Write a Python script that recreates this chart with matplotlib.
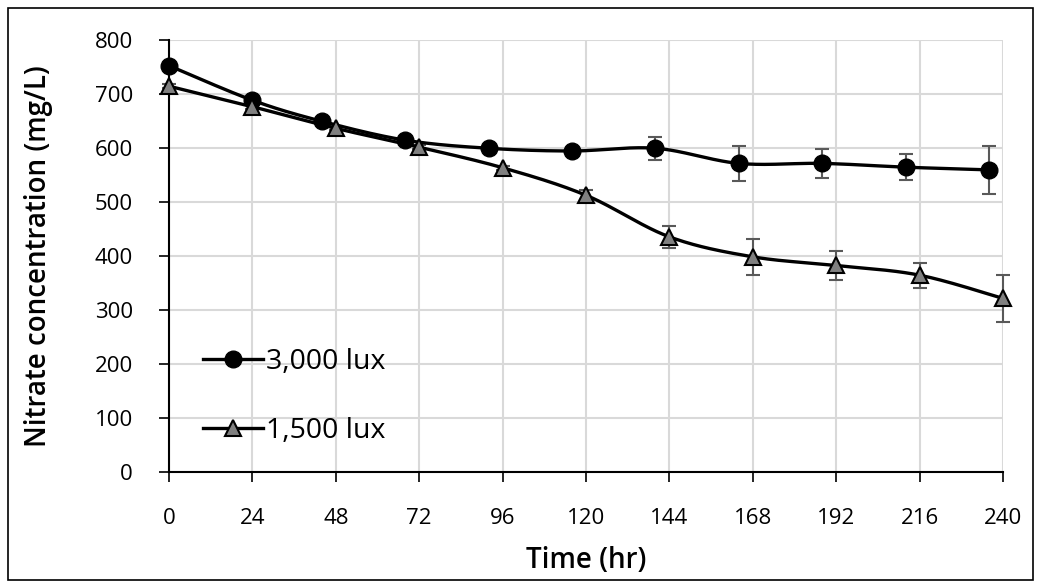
import matplotlib
matplotlib.use('Agg')
import matplotlib.pyplot as plt
import numpy as np
from matplotlib.patches import Rectangle

# values
time_3000 = [0, 24, 44, 68, 92, 116, 140, 164, 188, 212, 236]
conc_3000 = [753, 689, 650, 615, 600, 595, 600, 572, 572, 565, 560]
err_3000 = [4, 4, 4, 4, 4, 4, 21, 33, 27, 24, 44]

time_1500 = [0, 24, 48, 72, 96, 120, 144, 168, 192, 216, 240]
conc_1500 = [715, 677, 637, 602, 564, 513, 436, 399, 383, 365, 322]
err_1500 = [4, 4, 4, 4, 4, 10, 20, 33, 27, 23, 44]

x_ticks = [0, 24, 48, 72, 96, 120, 144, 168, 192, 216, 240]
y_ticks = [0, 100, 200, 300, 400, 500, 600, 700, 800]


def smooth(x, y, n=40):
    # excel-like smoothed line (bezier through points, catmull-rom tangents)
    pts = np.column_stack([x, y]).astype(float)
    m = len(pts)
    t = np.linspace(0, 1, n)[:, None]
    out = []
    for i in range(m - 1):
        p0 = pts[max(i - 1, 0)]
        p1 = pts[i]
        p2 = pts[i + 1]
        p3 = pts[min(i + 2, m - 1)]
        c1 = p1 + (p2 - p0) / 6
        c2 = p2 - (p3 - p1) / 6
        seg = (1 - t) ** 3 * p1 + 3 * (1 - t) ** 2 * t * c1 + 3 * (1 - t) * t ** 2 * c2 + t ** 3 * p2
        out.append(seg)
    out = np.vstack(out)
    return out[:, 0], out[:, 1]


plt.rcParams['font.family'] = ['Open Sans', 'DejaVu Sans']

fig = plt.figure(figsize=(10.41, 5.88), dpi=100)
ax = fig.add_axes([0.1623, 0.1968, 0.8012, 0.7347])

ax.set_xlim(0, 240)
ax.set_ylim(0, 800)
ax.set_xticks(x_ticks)
ax.set_yticks(y_ticks)
ax.grid(True, color='#d9d9d9', linewidth=1.5)
ax.set_axisbelow(True)
for side in ['top', 'right']:
    ax.spines[side].set_visible(False)
for side in ['left', 'bottom']:
    ax.spines[side].set_linewidth(1.5)
ax.tick_params(direction='out', length=7, width=1.2, labelsize=16, colors='black')
ax.tick_params(axis='y', pad=19)
ax.tick_params(axis='x', pad=19)

ax.set_xlabel('Time (hr)', fontsize=20, fontweight='semibold', labelpad=12)
ax.set_ylabel('Nitrate concentration (mg/L)', fontsize=20, fontweight='semibold', labelpad=30)

# error bars
ax.errorbar(time_3000, conc_3000, yerr=err_3000, fmt='none', ecolor='#595959',
            elinewidth=1.5, capsize=5, capthick=1.5, zorder=3, clip_on=False)
ax.errorbar(time_1500, conc_1500, yerr=err_1500, fmt='none', ecolor='#595959',
            elinewidth=1.5, capsize=5, capthick=1.5, zorder=3, clip_on=False)

sx, sy = smooth(time_3000, conc_3000)
ax.plot(sx, sy, color='black', linewidth=2.4, zorder=4, clip_on=False)
ax.plot(time_3000, conc_3000, linestyle='none', marker='o', markersize=12,
        markerfacecolor='black', markeredgecolor='black', zorder=5, clip_on=False)

sx, sy = smooth(time_1500, conc_1500)
ax.plot(sx, sy, color='black', linewidth=2.4, zorder=6, clip_on=False)
ax.plot(time_1500, conc_1500, linestyle='none', marker='^', markersize=12,
        markerfacecolor='#808080', markeredgecolor='black', markeredgewidth=1.5,
        zorder=7, clip_on=False)

h1, = ax.plot([], [], color='black', linewidth=2.4, marker='o', markersize=12,
              markerfacecolor='black', markeredgecolor='black')
h2, = ax.plot([], [], color='black', linewidth=2.4, marker='^', markersize=12,
              markerfacecolor='#808080', markeredgecolor='black', markeredgewidth=1.5)
ax.legend([h1, h2], ['3,000 lux', '1,500 lux'], loc='center left',
          bbox_to_anchor=(0.041, 0.176), frameon=False, fontsize=20.5,
          handlelength=2.1, handletextpad=0.12, labelspacing=1.45,
          borderpad=0, borderaxespad=0)

fig.patches.append(Rectangle((8 / 1041, 8 / 588), 1 - 16 / 1041, 1 - 16 / 588,
                             transform=fig.transFigure, fill=False,
                             edgecolor='black', linewidth=1.2))

fig.savefig('out.png', dpi=100)
